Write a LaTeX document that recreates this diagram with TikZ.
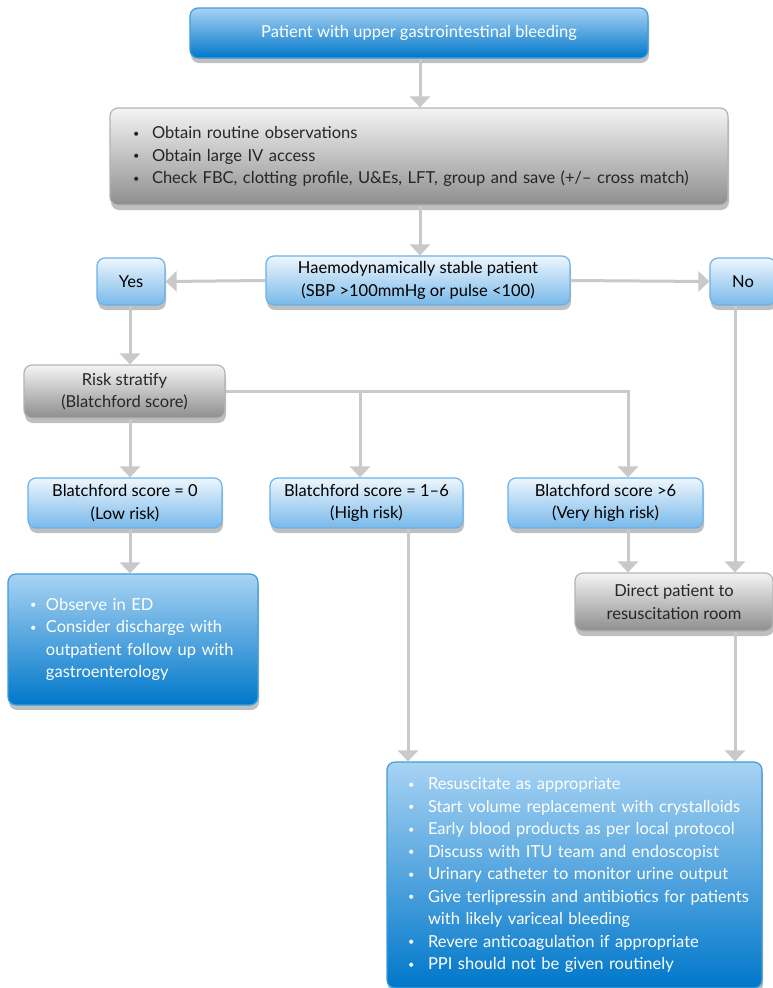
\documentclass[tikz,border=0pt]{standalone}
\usepackage{fontspec}
\setmainfont{Lato}
\usetikzlibrary{arrows.meta,shadows,calc}
\definecolor{bbtop}{HTML}{A8D3F3}
\definecolor{bbmid}{HTML}{2C9EE0}
\definecolor{bbbot}{HTML}{0077CA}
\definecolor{bbdraw}{HTML}{3F9CDD}
\definecolor{sbtop}{HTML}{EEF6FD}
\definecolor{sbmid}{HTML}{BCDDF6}
\definecolor{sbbot}{HTML}{78B9EA}
\definecolor{sbdraw}{HTML}{6AB2E8}
\definecolor{gtop}{HTML}{F4F4F4}
\definecolor{gmid}{HTML}{CDCDCD}
\definecolor{gbot}{HTML}{8E8E8E}
\definecolor{gdraw}{HTML}{B4B4B4}
\definecolor{conncol}{HTML}{C9C9C9}
\newcommand\smallbullet{{\fontsize{11}{11}\selectfont\raisebox{0.25ex}{•}}}
\newcommand\bitem[2][20pt]{\mbox{\makebox[#1][l]{\smallbullet}#2}}
\newcommand\bcont[2][20pt]{\mbox{\hspace*{#1}#2}}
\begin{document}
\begin{tikzpicture}[x=1pt,y=-1pt,
  every node/.style={font=\fontsize{16.5}{22.5}\selectfont, inner sep=0pt},
  boxbase/.style={rounded corners=8pt, line width=1.2pt,
    drop shadow={shadow xshift=1pt, shadow yshift=-5pt, opacity=0.25, fill=black}},
  bigblue/.style={boxbase, draw=bbdraw, top color=bbtop, middle color=bbmid, bottom color=bbbot, text=white},
  smallblue/.style={boxbase, draw=sbdraw, top color=sbtop, middle color=sbmid, bottom color=sbbot, text=black, align=center},
  graybox/.style={boxbase, draw=gdraw, top color=gtop, middle color=gmid, bottom color=gbot, text=black!85, align=center},
  conn/.style={draw=conncol, line width=3pt, -{Triangle[width=20pt,length=11pt]}}
]
\useasboundingbox (0,0) rectangle (773,988);
\fill[white] (0,0) rectangle (773,988);

% coordinates for connector x-positions
\coordinate (x130) at (130,0);
\coordinate (x360) at (360,0);
\coordinate (x408) at (408,0);
\coordinate (x420) at (420,0);
\coordinate (x628) at (628,0);
\coordinate (x735) at (735,0);

% nodes
\node[bigblue, minimum width=458pt, minimum height=50pt] (top) at (419,33)
  {Patient with upper gastrointestinal bleeding};

\node[graybox, minimum width=618pt, minimum height=97pt, text width=572pt, inner xsep=23pt, align=left] (obs) at (419,156.5)
  {\bitem[19pt]{Obtain routine observations}\\
   \bitem[19pt]{Obtain large IV access}\\
   \bitem[19pt]{Check FBC, clotting profile, U\&Es, LFT, group and save (+/– cross match)}};

\node[smallblue, minimum width=304pt, minimum height=49pt] (haem) at (418,280.5)
  {Haemodynamically stable patient\\(SBP >100mmHg or pulse <100)};

\node[smallblue, minimum width=68pt, minimum height=47pt] (yes) at (131,281.5) {Yes};
\node[smallblue, minimum width=66pt, minimum height=47pt] (no) at (743,281.5) {No};

\node[graybox, minimum width=201pt, minimum height=53pt] (risk) at (124.5,391.5)
  {Risk stratify\\(Blatchford score)};

\node[smallblue, minimum width=194pt, minimum height=50pt] (b0) at (125,503)
  {Blatchford score = 0\\(Low risk)};
\node[smallblue, minimum width=193pt, minimum height=50pt] (b16) at (366.5,503)
  {Blatchford score = 1–6\\(High risk)};
\node[smallblue, minimum width=195pt, minimum height=50pt] (bgt6) at (605.5,503)
  {Blatchford score >6\\(Very high risk)};

\node[bigblue, minimum width=250pt, minimum height=131pt, text width=206pt, inner xsep=22pt, align=left] (observe) at (133,639.5)
  {\bitem[16pt]{Observe in ED}\\
   \bitem[16pt]{Consider discharge with}\\
   \bcont[16pt]{outpatient follow up with}\\
   \bcont[16pt]{gastroenterology}};

\node[graybox, minimum width=198pt, minimum height=58pt] (direct) at (674,602)
  {Direct patient to\\resuscitation room};

\node[bigblue, minimum width=375pt, minimum height=226pt, text width=333pt, inner xsep=21pt, align=left] (fin) at (574.5,875)
  {\bitem{Resuscitate as appropriate}\\
   \bitem{Start volume replacement with crystalloids}\\
   \bitem{Early blood products as per local protocol}\\
   \bitem{Discuss with ITU team and endoscopist}\\
   \bitem{Urinary catheter to monitor urine output}\\
   \bitem{Give terlipressin and antibiotics for patients}\\
   \bcont{with likely variceal bleeding}\\
   \bitem{Revere anticoagulation if appropriate}\\
   \bitem{PPI should not be given routinely}};

% connectors
\draw[conn] (x420 |- top.south) -- (x420 |- obs.north);
\draw[conn] (x420 |- obs.south) -- (x420 |- haem.north);
\draw[conn] (haem.west) -- (yes.east);
\draw[conn] (haem.east) -- (no.west);
\draw[conn] (x130 |- yes.south) -- (x130 |- risk.north);
\draw[conn] (x130 |- risk.south) -- (x130 |- b0.north);
\draw[conn] (risk.east) -| (x628 |- bgt6.north);
\draw[conn] (x360 |- risk.east) -- (x360 |- b16.north);
\draw[conn] (x130 |- b0.south) -- (x130 |- observe.north);
\draw[conn] (x408 |- b16.south) -- (x408 |- fin.north);
\draw[conn] (x628 |- bgt6.south) -- (x628 |- direct.north);
\draw[conn] (x735 |- no.south) -- (x735 |- direct.north);
\draw[conn] (x735 |- direct.south) -- (x735 |- fin.north);
\end{tikzpicture}
\end{document}
